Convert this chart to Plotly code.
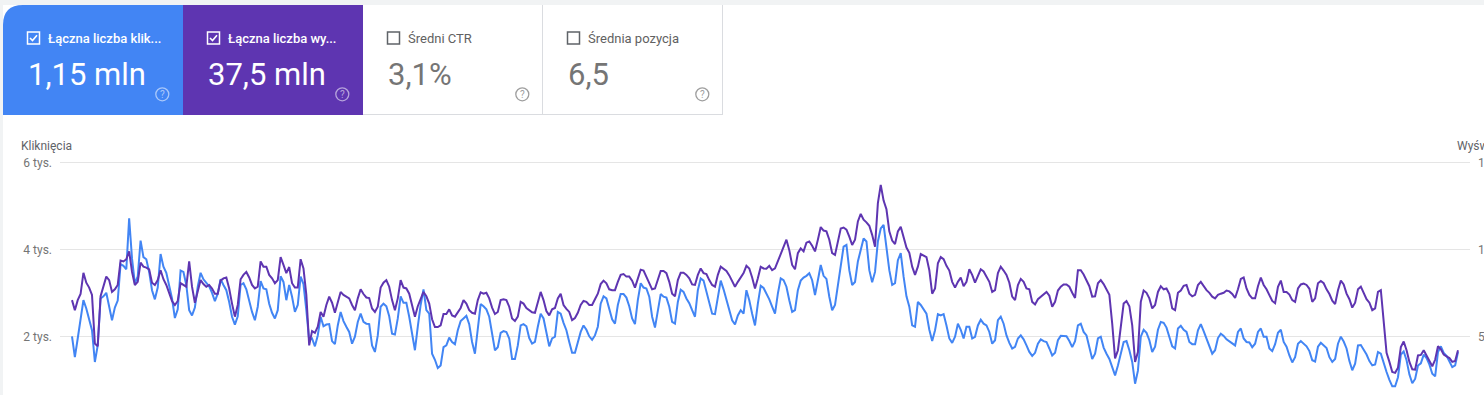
import pandas as pd
import plotly.graph_objects as go

# ---------------- data ----------------
clicks = [
    2000, 1520, 1950, 2370, 2830, 2640, 2410, 2140, 1410, 1790,
    2870, 2920, 3000, 2680, 2370, 2660, 2820, 3660, 3620, 3540,
    4710, 3790, 3210, 3380, 4200, 3820, 3770, 3480, 3060, 2850,
    3120, 3890, 3600, 3460, 3180, 2870, 2420, 2620, 3510, 3480,
    3180, 2600, 2480, 2660, 3140, 3460, 3310, 3230, 3150, 3000,
    2810, 2980, 3310, 3180, 3060, 2790, 2450, 2270, 2460, 3180,
    3220, 3080, 2790, 2560, 2370, 2680, 3270, 3100, 3080, 2750,
    2540, 2410, 2600, 3380, 3250, 2830, 3180, 2910, 2560, 2720,
    3370, 3200, 2600, 1910, 1950, 1770, 2020, 2450, 2230, 2270,
    2280, 1890, 1820, 2250, 2560, 2350, 2220, 2100, 1830, 1990,
    2330, 2520, 2330, 2290, 2280, 1790, 1640, 2020, 2680, 2750,
    2690, 2460, 2060, 2040, 2410, 2920, 2770, 2770, 2450, 2020,
    1680, 2220, 2720, 3080, 2600, 2520, 1600, 1460, 1270, 1330,
    1750, 1790, 1970, 1870, 1820, 2140, 2350, 2410, 2470, 2280,
    1870, 1600, 2140, 2740, 2690, 2620, 2450, 2100, 1680, 1750,
    2080, 2120, 2100, 1950, 1480, 1480, 1790, 2250, 2280, 2230,
    1960, 1830, 1870, 2220, 2520, 2410, 2060, 1770, 1950, 1990,
    2560, 2520, 2310, 2140, 1870, 1620, 1620, 1890, 2100, 2250,
    2150, 2000, 1920, 2020, 2220, 2750, 2920, 2870, 2620, 2390,
    2290, 2720, 2970, 2970, 2890, 2690, 2410, 2280, 2830, 3220,
    3120, 3100, 2910, 2450, 2200, 2600, 2970, 2910, 2890, 2680,
    2330, 2290, 2790, 3070, 3020, 2870, 2760, 2600, 2450, 3060,
    3330, 3280, 3020, 2750, 2520, 2510, 2950, 3280, 3080, 2850,
    2560, 2370, 2270, 2480, 2600, 2520, 3060, 2830, 2520, 2250,
    2750, 3160, 3110, 2980, 2850, 2680, 2520, 2980, 3330, 3290,
    3140, 2830, 2560, 2600, 3060, 3280, 3350, 3390, 3450, 3290,
    2950, 3290, 3640, 3390, 3320, 2910, 2600, 2720, 3180, 3720,
    4060, 4100, 3520, 3180, 3250, 3720, 4020, 4250, 4180, 3520,
    3240, 3480, 4180, 4480, 4560, 4020, 3520, 3180, 3220, 3750,
    3910, 3370, 2920, 2680, 2250, 2220, 2790, 2720, 2630, 2520,
    2150, 1890, 2140, 2510, 2480, 2510, 2250, 1950, 1850, 1990,
    2290, 2150, 1950, 2220, 2220, 1950, 1990, 2250, 2380, 2290,
    2250, 2100, 1830, 1910, 2370, 2450, 2290, 2020, 1850, 1720,
    1760, 1950, 2020, 1930, 1790, 1640, 1550, 1620, 1830, 1930,
    1890, 1870, 1720, 1560, 1620, 1910, 2010, 2000, 2000, 1890,
    1750, 1890, 2250, 2290, 2100, 2020, 1750, 1480, 1600, 1950,
    1990, 1740, 1600, 1480, 1290, 1100, 1330, 1600, 1870, 1890,
    1680, 1410, 910, 1210, 1990, 2150, 2080, 1910, 1640, 1760,
    2150, 2330, 2310, 2200, 1960, 1770, 1720, 2180, 2240, 2150,
    2100, 1870, 1820, 1820, 2140, 2280, 2120, 1950, 1770, 1600,
    1680, 1960, 2060, 2010, 1930, 1880, 1820, 1790, 2100, 2180,
    1950, 1870, 1860, 1750, 1830, 2100, 2180, 1990, 1990, 1720,
    1660, 1820, 2080, 2150, 1870, 1760, 1560, 1400, 1520, 1830,
    1890, 1830, 1770, 1660, 1450, 1420, 1760, 1850, 1790, 1730,
    1520, 1410, 1480, 1830, 1990, 1880, 1720, 1430, 1220, 1370,
    1790, 1800, 1690, 1580, 1430, 1330, 1350, 1640, 1600, 1370,
    1180, 1000, 850, 850, 1060, 1580, 1650, 1450, 1120, 920,
    1020, 1330, 1380, 1580, 1500, 1350, 1140, 1080, 1640, 1770,
    1620, 1550, 1430, 1290, 1330, 1640,
]

# impressions, in thousands
impressions_k = [
    70.8, 65.0, 70.8, 74.3, 86.5, 80.8, 78.0, 73.8, 45.8, 44.3,
    73.0, 79.5, 84.3, 82.3, 75.5, 77.0, 79.5, 93.5, 93.0, 94.3,
    98.8, 87.0, 79.5, 81.3, 92.3, 90.0, 89.5, 88.5, 80.8, 79.5,
    82.3, 88.0, 82.8, 79.5, 74.5, 70.3, 68.0, 70.3, 80.5, 79.5,
    78.5, 93.0, 78.5, 69.3, 76.5, 82.3, 80.0, 78.5, 79.5, 77.5,
    74.5, 74.5, 82.0, 83.3, 83.8, 77.5, 68.8, 61.3, 68.0, 82.8,
    85.3, 87.0, 83.8, 79.5, 77.5, 78.5, 93.0, 90.0, 90.0, 85.3,
    83.3, 80.5, 82.3, 95.5, 91.0, 86.3, 89.8, 80.5, 78.0, 78.0,
    94.3, 89.0, 73.8, 44.8, 53.0, 52.0, 55.5, 64.0, 61.3, 68.0,
    72.8, 69.3, 63.5, 69.8, 75.5, 73.8, 73.0, 71.8, 68.0, 65.0,
    71.8, 77.0, 74.3, 72.3, 72.0, 66.0, 64.0, 67.0, 78.0, 80.8,
    82.3, 78.5, 70.8, 65.0, 71.8, 82.3, 78.0, 77.5, 74.5, 68.0,
    61.3, 67.3, 71.8, 75.5, 73.0, 68.8, 59.8, 55.3, 55.3, 56.3,
    62.8, 62.8, 65.5, 62.0, 61.3, 63.5, 66.3, 70.8, 68.8, 65.0,
    63.5, 63.0, 70.8, 75.3, 74.5, 75.0, 71.8, 66.5, 62.8, 64.0,
    70.8, 71.3, 70.8, 67.0, 60.3, 58.8, 61.3, 69.8, 68.8, 66.3,
    65.0, 63.8, 63.5, 69.8, 75.5, 70.8, 64.5, 62.0, 65.5, 66.3,
    71.8, 74.5, 68.0, 65.8, 64.0, 59.3, 60.5, 63.5, 68.0, 70.3,
    69.8, 68.0, 68.0, 71.3, 74.5, 80.0, 82.0, 80.5, 77.0, 76.5,
    76.5, 81.3, 85.3, 85.8, 84.3, 84.3, 82.0, 78.0, 83.3, 88.3,
    87.8, 84.3, 80.5, 77.0, 77.5, 83.3, 87.5, 87.5, 86.3, 81.3,
    74.5, 73.0, 82.3, 86.5, 86.5, 85.3, 83.3, 79.8, 79.5, 85.3,
    89.0, 86.3, 85.8, 82.3, 79.5, 78.5, 85.3, 90.0, 88.8, 87.5,
    85.0, 81.3, 78.5, 81.3, 83.8, 86.3, 90.5, 89.0, 83.8, 77.5,
    83.3, 90.0, 89.0, 88.8, 90.5, 88.0, 89.0, 93.0, 96.8, 101.5,
    105.5, 99.5, 91.0, 88.5, 97.8, 100.5, 98.8, 103.8, 104.5, 102.0,
    98.8, 105.5, 112.8, 110.8, 110.3, 105.5, 97.8, 96.8, 105.5, 112.0,
    112.5, 111.3, 107.3, 102.5, 105.5, 116.0, 120.3, 117.0, 115.5, 113.5,
    108.3, 101.5, 126.5, 137.0, 128.0, 123.0, 110.3, 105.0, 103.0, 110.3,
    113.0, 106.3, 101.0, 98.0, 90.0, 85.3, 90.0, 97.3, 96.3, 95.5,
    88.0, 74.5, 77.5, 92.0, 95.5, 94.3, 90.5, 87.8, 81.3, 78.0,
    81.3, 83.8, 78.8, 81.3, 88.5, 85.3, 80.8, 84.3, 88.5, 87.3,
    83.8, 81.3, 75.5, 76.5, 86.3, 90.0, 87.8, 85.3, 80.8, 72.8,
    70.8, 79.5, 83.0, 81.3, 77.5, 77.0, 69.8, 68.3, 71.3, 72.8,
    74.5, 75.5, 73.3, 67.0, 69.8, 76.3, 78.5, 79.8, 79.8, 78.5,
    75.0, 72.0, 88.0, 88.0, 85.5, 82.3, 78.8, 72.8, 73.0, 80.5,
    82.3, 80.0, 77.0, 73.8, 57.3, 37.3, 42.0, 57.3, 68.8, 70.3,
    67.3, 56.3, 35.3, 41.0, 69.8, 76.3, 75.0, 71.8, 66.0, 68.0,
    75.5, 78.8, 77.0, 77.5, 74.3, 66.0, 65.0, 75.0, 76.3, 79.0,
    79.5, 74.5, 73.0, 73.8, 79.5, 81.3, 78.8, 76.5, 75.0, 72.8,
    71.8, 73.8, 74.5, 75.0, 76.3, 75.8, 74.3, 72.0, 77.0, 83.0,
    83.8, 77.5, 73.8, 71.8, 71.8, 78.8, 83.8, 79.5, 77.0, 73.3,
    70.3, 69.0, 78.5, 82.0, 75.5, 75.5, 74.0, 70.8, 69.8, 77.5,
    79.8, 80.3, 79.5, 77.3, 69.8, 71.8, 80.5, 81.8, 80.5, 77.0,
    74.3, 70.5, 68.5, 76.5, 82.0, 79.8, 74.5, 71.3, 66.5, 69.3,
    77.0, 78.5, 75.3, 71.3, 69.3, 65.0, 66.0, 75.5, 76.5, 57.3,
    40.5, 35.3, 29.5, 29.0, 32.0, 43.8, 47.0, 42.0, 35.3, 31.0,
    30.8, 39.0, 39.3, 42.0, 39.0, 35.3, 32.8, 36.5, 44.3, 42.5,
    39.5, 38.5, 37.5, 35.3, 35.8, 42.0,
]

start_date = "2021-09-01"

click_ticks = [2000, 4000, 6000]
click_tick_labels = ["2 tys.", "4 tys.", "6 tys."]
impr_ticks = [50000, 100000, 150000]
impr_tick_labels = ["50 tys.", "100 tys.", "150 tys."]

card_labels = ["Łączna liczba klik...", "Łączna liczba wy...", "Średni CTR", "Średnia pozycja"]
card_values = ["1,15 mln", "37,5 mln", "3,1%", "6,5"]
left_title = "Kliknięcia"
right_title = "Wyświetlenia"

# ---------------- layout helpers ----------------
W, H = 1484, 395
FONT = "Roboto, Arial, sans-serif"
BLUE = "#4285f4"
PURPLE = "#5e35b1"
GREY_TXT = "#5f6368"


def X(px):
    return px / W


def Y(py):
    return 1 - py / H


impressions = [v * 1000 for v in impressions_k]
dates = pd.date_range(start_date, periods=len(clicks), freq="D")

fig = go.Figure()
fig.add_trace(go.Scatter(x=dates, y=clicks, mode="lines", name="Kliknięcia",
                         line=dict(color=BLUE, width=2), yaxis="y", hoverinfo="skip"))
fig.add_trace(go.Scatter(x=dates, y=impressions, mode="lines", name="Wyświetlenia",
                         line=dict(color=PURPLE, width=2), yaxis="y2", hoverinfo="skip"))

# axis geometry (pixel based)
x_left_px, x_right_px = 60, 1470
first_px, last_px = 72, 1458
day_px = (last_px - first_px) / (len(clicks) - 1)
pad_l = pd.Timedelta(days=(first_px - x_left_px) / day_px)
pad_r = pd.Timedelta(days=(x_right_px - last_px) / day_px)

top_px, bottom_px = 150, 395
grid6_px = 162.3
unit_px = 87 / 2000
y_top = 6000 + (grid6_px - top_px) / unit_px
y_bot = 6000 - (bottom_px - grid6_px) / unit_px

shapes = []
annotations = []

# page background / main card
shapes.append(dict(type="rect", xref="paper", yref="paper", x0=X(3), x1=X(W + 5), y0=Y(5), y1=Y(H + 5),
                   fillcolor="white", line=dict(width=0), layer="below"))
# blue card with rounded corner
r = 20
shapes.append(dict(type="path", xref="paper", yref="paper",
                   path=f"M {X(3)},{Y(115)} L {X(3)},{Y(5 + r)} Q {X(3)},{Y(5)} {X(3 + r)},{Y(5)} "
                        f"L {X(183)},{Y(5)} L {X(183)},{Y(115)} Z",
                   fillcolor=BLUE, line=dict(width=0), layer="below"))
shapes.append(dict(type="rect", xref="paper", yref="paper", x0=X(183), x1=X(363), y0=Y(5), y1=Y(115),
                   fillcolor=PURPLE, line=dict(width=0), layer="below"))
# borders of the white cards
for xx in (542.5, 722.5):
    shapes.append(dict(type="line", xref="paper", yref="paper", x0=X(xx), x1=X(xx), y0=Y(5), y1=Y(115),
                       line=dict(color="#dadce0", width=1)))
shapes.append(dict(type="line", xref="paper", yref="paper", x0=X(363), x1=X(723), y0=Y(114.5), y1=Y(114.5),
                   line=dict(color="#dadce0", width=1)))

card_x = [27, 207, 387, 567]
checked = [True, True, False, False]
for i, cx in enumerate(card_x):
    on = checked[i]
    c_line = "white" if on else "#5f6368"
    shapes.append(dict(type="rect", xref="paper", yref="paper", x0=X(cx + 0.5), x1=X(cx + 12.5),
                       y0=Y(32), y1=Y(44), line=dict(color=c_line, width=1.5)))
    if on:
        shapes.append(dict(type="path", xref="paper", yref="paper",
                           path=f"M {X(cx + 3)},{Y(38)} L {X(cx + 5.5)},{Y(40.6)} L {X(cx + 10)},{Y(35.2)}",
                           line=dict(color="white", width=1.6)))
    lab_col = "white" if on else "#616161"
    val_col = "white" if on else "#757575"
    annotations.append(dict(text=card_labels[i], x=X(cx + 19), y=Y(38.5), xref="paper", yref="paper",
                            xanchor="left", yanchor="middle", showarrow=False,
                            font=dict(family=FONT, size=13, color=lab_col, weight=500 if on else 400)))
    annotations.append(dict(text=card_values[i], x=X(cx - 1), y=Y(74), xref="paper", yref="paper",
                            xanchor="left", yanchor="middle", showarrow=False,
                            font=dict(family=FONT, size=31, color=val_col)))
    # help icon
    hx, hy, hr = cx + 135.3, 94.3, 6.5
    icon_col = "rgba(255,255,255,0.55)" if on else "#9e9e9e"
    shapes.append(dict(type="circle", xref="paper", yref="paper", x0=X(hx - hr), x1=X(hx + hr),
                       y0=Y(hy - hr), y1=Y(hy + hr), line=dict(color=icon_col, width=1.3)))
    annotations.append(dict(text="?", x=X(hx), y=Y(hy), xref="paper", yref="paper",
                            xanchor="center", yanchor="middle", showarrow=False,
                            font=dict(family=FONT, size=10, color=icon_col)))

annotations.append(dict(text=left_title, x=X(19), y=Y(146), xref="paper", yref="paper",
                        xanchor="left", yanchor="middle", showarrow=False,
                        font=dict(family=FONT, size=12, color=GREY_TXT)))
annotations.append(dict(text=right_title, x=X(1455), y=Y(146), xref="paper", yref="paper",
                        xanchor="left", yanchor="middle", showarrow=False,
                        font=dict(family=FONT, size=12, color=GREY_TXT)))

fig.update_layout(
    width=W, height=H,
    margin=dict(l=0, r=0, t=0, b=0, autoexpand=False),
    paper_bgcolor="#f1f3f4",
    plot_bgcolor="rgba(0,0,0,0)",
    showlegend=False,
    font=dict(family=FONT),
    xaxis=dict(domain=[X(x_left_px), X(x_right_px)],
               range=[dates[0] - pad_l, dates[-1] + pad_r], automargin=False,
               showgrid=False, zeroline=False, showticklabels=False, showline=False, ticks=""),
    yaxis=dict(domain=[0, Y(top_px)], range=[y_bot, y_top], automargin=False,
               tickvals=click_ticks, ticktext=click_tick_labels,
               showgrid=True, gridcolor="#e5e5e5", gridwidth=1, zeroline=False, showline=False,
               ticks="", ticklabelstandoff=7,
               tickfont=dict(family=FONT, size=12, color="#757575")),
    yaxis2=dict(overlaying="y", side="right", range=[y_bot * 25, y_top * 25], automargin=False,
                tickvals=impr_ticks, ticktext=impr_tick_labels,
                showgrid=False, zeroline=False, showline=False, ticks="", ticklabelstandoff=7,
                tickfont=dict(family=FONT, size=12, color="#757575")),
    shapes=shapes,
    annotations=annotations,
)

fig.write_html("out.html", config={"displayModeBar": False},
               post_script="document.body.style.margin='0';document.body.style.overflow='hidden';")
